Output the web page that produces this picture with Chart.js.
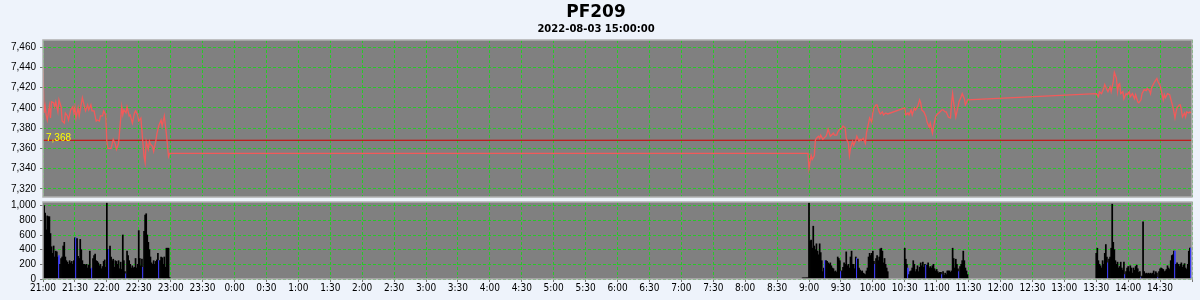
<!DOCTYPE html>
<html>
<head>
<meta charset="utf-8">
<script src="https://cdn.jsdelivr.net/npm/chart.js@4.4.1/dist/chart.umd.min.js"></script>
<style>
body { margin: 0; background: #eef3fb; }
#wrap { position: relative; width: 1200px; height: 300px; }
#priceChart { position: absolute; left: 0; top: 0; }
#volChart { position: absolute; left: 0; top: 200px; }
</style>
</head>
<body>
<div id="wrap">
<canvas id="priceChart" width="1200" height="200"></canvas>
<canvas id="volChart" width="1200" height="100"></canvas>
</div>
<script>
const TITLE = 'PF209';
const SUBTITLE = '2022-08-03 15:00:00';
const REF_PRICE = 7368;
const PRICE_TICKS = [7320, 7340, 7360, 7380, 7400, 7420, 7440, 7460];
const VOL_TICKS = [0, 200, 400, 600, 800, 1000];
// x values are minutes after 21:00
const X_END = 1080;

const PRICE_T = [
    0,1,2,3,4,6,7,8,10,11,12,14,15,17,18,20,21,23,24,26,28,29,30,31,33,34,35,37,39,40,42,43,45,46,48,50,51,53,54,56,
    57,59,60,61,64,66,68,69,71,72,74,75,76,78,79,81,82,84,86,87,89,90,92,94,95,96,97,99,100,101,103,104,106,107,109,111,112,114,115,116,118,119,
    719,720,721,722,723,725,726,727,729,730,731,733,734,736,737,738,740,741,743,744,746,747,749,751,752,754,755,757,758,759,
    761,762,764,765,767,768,769,771,773,774,776,777,779,780,781,783,784,786,787,789,790,792,794,
    810,811,813,814,816,817,819,820,822,824,825,826,828,830,831,833,834,836,837,839,840,842,843,845,846,848,849,851,853,854,
    855,856,858,860,861,863,864,866,867,868,869,
    990,992,993,995,997,998,1000,1001,1003,1004,1006,1007,1009,1010,1011,1012,1013,1015,1016,1018,1019,1021,1022,1024,1026,1027,1029,1030,1032,1033,
    1035,1037,1038,1040,1041,1042,1044,1045,1047,1048,1050,1052,1053,1054,1055,1057,1059,1060,1062,1063,1064,1065,1066,1068,1069,1070,1071,1073,1074,1075,
    1077,1078,1079
];
const PRICE_V = [
    7440,7395,7402,7393,7388,7402,7390,7406,7405,7401,7406,7396,7408,7401,7387,7385,7395,7392,7388,7398,7401,7395,7401,7390,7400,7392,7398,7410,7401,7397,7403,7398,7403,7397,7397,7387,7388,7387,7392,7392,
    7397,7393,7367,7360,7360,7369,7364,7359,7365,7377,7401,7393,7398,7395,7401,7392,7393,7385,7395,7397,7393,7387,7390,7364,7352,7346,7367,7359,7367,7364,7362,7357,7367,7374,7383,7388,7382,7392,7383,7374,7352,7355,
    7355,7340,7347,7353,7349,7353,7368,7370,7372,7370,7373,7369,7370,7372,7375,7379,7372,7373,7375,7373,7373,7376,7379,7380,7382,7380,7370,7365,7353,7360,
    7367,7363,7368,7372,7367,7369,7368,7370,7365,7375,7385,7390,7386,7395,7400,7403,7403,7396,7394,7396,7393,7395,7394,
    7400,7393,7395,7393,7398,7393,7400,7398,7401,7408,7405,7398,7396,7391,7386,7381,7385,7375,7381,7391,7393,7395,7396,7398,7398,7396,7396,7391,7390,7405,
    7414,7405,7391,7401,7406,7411,7414,7409,7403,7405,7408,
    7414,7411,7416,7414,7419,7423,7418,7416,7421,7416,7426,7435,7429,7416,7423,7424,7414,7416,7409,7414,7413,7416,7411,7414,7409,7413,7406,7405,7408,7414,
    7418,7417,7419,7417,7414,7420,7424,7426,7429,7426,7422,7413,7408,7413,7410,7414,7413,7409,7401,7396,7390,7396,7400,7403,7403,7398,7391,7395,7391,7396,
    7395,7396,7395
];

const NIGHT_START = 0;
const VOL_NIGHT = [
    1040,1000,900,670,860,850,850,620,440,350, 450,300,380,370,300,320,200,280,300,450,
    500,300,250,230,200,250,220,240,200,250, 560,560,550,310,280,540,400,250,200,200,
    190,200,150,190,380,140,150,280,320,340, 250,240,220,180,200,140,170,240,260,160,
    1040,400,400,450,300,250,270,160,250,240, 200,250,140,230,130,600,250,100,70,380,
    320,250,200,150,180,150,160,280,150,200, 660,280,180,270,160,650,870,890,600,500,
    400,300,220,200,250,200,240,260,350,250, 250,300,290,200,300,160,420,420,420,20
];
const PRE_START = 714;
const VOL_PRE = [15, 15, 15, 15, 15, 15];
const AM1_START = 720;
const VOL_AM1 = [
    1040,520,530,420,720,450,400,480,380,330, 480,360,250,100,150,250,250,240,220,200,
    220,180,150,140,100,110,90,300,280,250, 100,110,160,220,200,370,180,200,150,300,
    380,200,200,140,300,280,270,150,120,100, 110,80,70,60,110,150,300,350,320,350,
    380,240,200,280,320,250,300,410,420,380, 220,280,200,150,100
];
const AM2_START = 810;
const VOL_AM2 = [
    420,270,200,150,60,100,110,150,250,200, 100,130,180,100,160,220,180,230,160,200,
    190,190,220,150,170,150,180,200,140,110, 130,100,80,90,90,60,100,50,80,60,
    110,110,110,90,110,420,280,150,270,200, 140,100,170,200,250,380,250,150,110,60
];
const PM_START = 990;
const VOL_PM = [
    350,420,250,200,180,150,250,200,350,470, 300,220,270,300,420,1020,500,400,250,200,
    230,150,170,230,150,120,230,60,100,150, 170,100,180,150,80,150,120,170,190,140,
    90,100,20,40,780,100,70,80,70,80, 70,80,70,80,110,60,100,80,20,100,
    140,150,140,130,100,110,130,180,150,130, 250,320,330,380,380,200,220,200,170,200,
    220,160,190,210,150,130,200,380,420,420
];
const BLUE_MIN = [15,31,46,62,78,94,109,735,750,765,782,813,830,845,861,1001,1017,1032,1048,1064,1079];

const GRID = 'rgb(40,200,40)';
const TICK_FONT = { family: "'Liberation Sans', Arial, sans-serif", size: 10 };
const X_FONT = { family: "'Liberation Sans Narrow', 'DejaVu Sans Condensed', 'Liberation Sans', sans-serif", size: 10 };

function time_label(m) {
    if (m >= X_END) return '';
    let h = (21 + Math.floor(m / 60)) % 24;
    let mm = m % 60;
    return h + ':' + (mm < 10 ? '0' : '') + mm;
}

function build_vol() {
    let pts = [];
    let add = (arr, start) => arr.forEach((v, i) => pts.push({ x: start + i, y: v }));
    add(VOL_NIGHT, NIGHT_START);
    add(VOL_PRE, PRE_START);
    add(VOL_AM1, AM1_START);
    add(VOL_AM2, AM2_START);
    add(VOL_PM, PM_START);
    return pts;
}

const panel = {
    id: 'panel',
    beforeDraw(c) {
        let a = c.chartArea;
        c.ctx.save();
        c.ctx.fillStyle = '#808080';
        c.ctx.fillRect(a.left, a.top, a.right - a.left, a.bottom - a.top);
        c.ctx.restore();
    },
    afterDraw(c) {
        let a = c.chartArea;
        c.ctx.save();
        c.ctx.strokeStyle = '#b0b0b0';
        c.ctx.lineWidth = 1.5;
        c.ctx.strokeRect(a.left, a.top, a.right - a.left, a.bottom - a.top);
        c.ctx.restore();
    }
};

const refLabel = {
    id: 'refLabel',
    afterDatasetsDraw(c) {
        let y = c.scales.y.getPixelForValue(REF_PRICE);
        let ctx = c.ctx;
        ctx.save();
        ctx.fillStyle = '#ffff00';
        ctx.font = "10px 'Liberation Sans', Arial, sans-serif";
        ctx.textBaseline = 'middle';
        ctx.fillText(REF_PRICE.toLocaleString('en-US'), c.chartArea.left + 3, y - 2);
        ctx.restore();
    }
};

function x_axis(showLabels) {
    return {
        type: 'linear',
        min: 0,
        max: X_END,
        offset: false,
        grid: { offset: false, color: GRID, lineWidth: 1, drawTicks: showLabels, tickLength: 3, tickColor: '#777' },
        border: { display: false, dash: [3, 2] },
        ticks: {
            display: showLabels,
            stepSize: 30,
            autoSkip: false,
            maxRotation: 0,
            padding: 0,
            color: '#000',
            font: X_FONT,
            callback: (v) => time_label(v),
        },
        afterBuildTicks: (s) => {
            let t = [];
            for (let m = 0; m <= X_END; m += 30) t.push({ value: m });
            s.ticks = t;
        },
        afterFit: (s) => {
            s.height = showLabels ? 21 : 0;
            s.paddingLeft = 0;
            s.paddingRight = 0;
        },
    };
}

function y_axis(min, max, tickVals) {
    return {
        min: min,
        max: max,
        grid: { color: GRID, lineWidth: 1, tickLength: 3, tickColor: '#777' },
        border: { display: false, dash: [3, 2] },
        ticks: {
            color: '#000',
            padding: 4,
            autoSkip: false,
            font: TICK_FONT,
            callback: (v) => v.toLocaleString('en-US'),
        },
        afterBuildTicks: (s) => { s.ticks = tickVals.map((v) => ({ value: v })); },
        afterFit: (s) => {
            s.width = 43;
            s.paddingTop = 0;
            s.paddingBottom = 0;
        },
    };
}

function draw_price() {
    let ctx = document.getElementById('priceChart');
    return new Chart(ctx, {
        type: 'line',
        data: {
            datasets: [
                {
                    data: PRICE_T.map((t, i) => ({ x: t, y: PRICE_V[i] })),
                    borderColor: '#f25a5a',
                    borderWidth: 1.3,
                    pointRadius: 0,
                    tension: 0,
                    fill: false,
                },
                {
                    data: [{ x: 0, y: REF_PRICE }, { x: X_END, y: REF_PRICE }],
                    borderColor: '#d40000',
                    borderWidth: 1,
                    pointRadius: 0,
                    fill: false,
                },
            ],
        },
        options: {
            responsive: false,
            animation: false,
            layout: { padding: { left: 0, right: 8, top: 0, bottom: 3 } },
            scales: {
                x: x_axis(false),
                y: y_axis(7312, 7467, PRICE_TICKS),
            },
            plugins: {
                legend: { display: false },
                tooltip: { enabled: false },
                title: {
                    display: true,
                    text: TITLE,
                    color: '#000',
                    font: { family: "'DejaVu Sans', sans-serif", size: 17, weight: 'bold' },
                    padding: { top: 2, bottom: 0 },
                },
                subtitle: {
                    display: true,
                    text: SUBTITLE,
                    color: '#000',
                    font: { family: "'DejaVu Sans', sans-serif", size: 10, weight: 'bold' },
                    padding: { top: 1, bottom: 4.6 },
                },
            },
        },
        plugins: [panel, refLabel],
    });
}

function draw_volume() {
    let ctx = document.getElementById('volChart');
    return new Chart(ctx, {
        type: 'bar',
        data: {
            datasets: [
                {
                    data: build_vol(),
                    backgroundColor: (c) => (c.raw && BLUE_MIN.indexOf(c.raw.x) >= 0 ? '#3c3cff' : '#000000'),
                    borderWidth: 0,
                    barPercentage: 1,
                    categoryPercentage: 1,
                },
            ],
        },
        options: {
            responsive: false,
            animation: false,
            layout: { padding: { left: 0, right: 8, top: 2, bottom: 0 } },
            scales: {
                x: x_axis(true),
                y: y_axis(0, 1050, VOL_TICKS),
            },
            plugins: {
                legend: { display: false },
                tooltip: { enabled: false },
            },
        },
        plugins: [panel],
    });
}

var priceChart = draw_price();
var volChart = draw_volume();
</script>
</body>
</html>
